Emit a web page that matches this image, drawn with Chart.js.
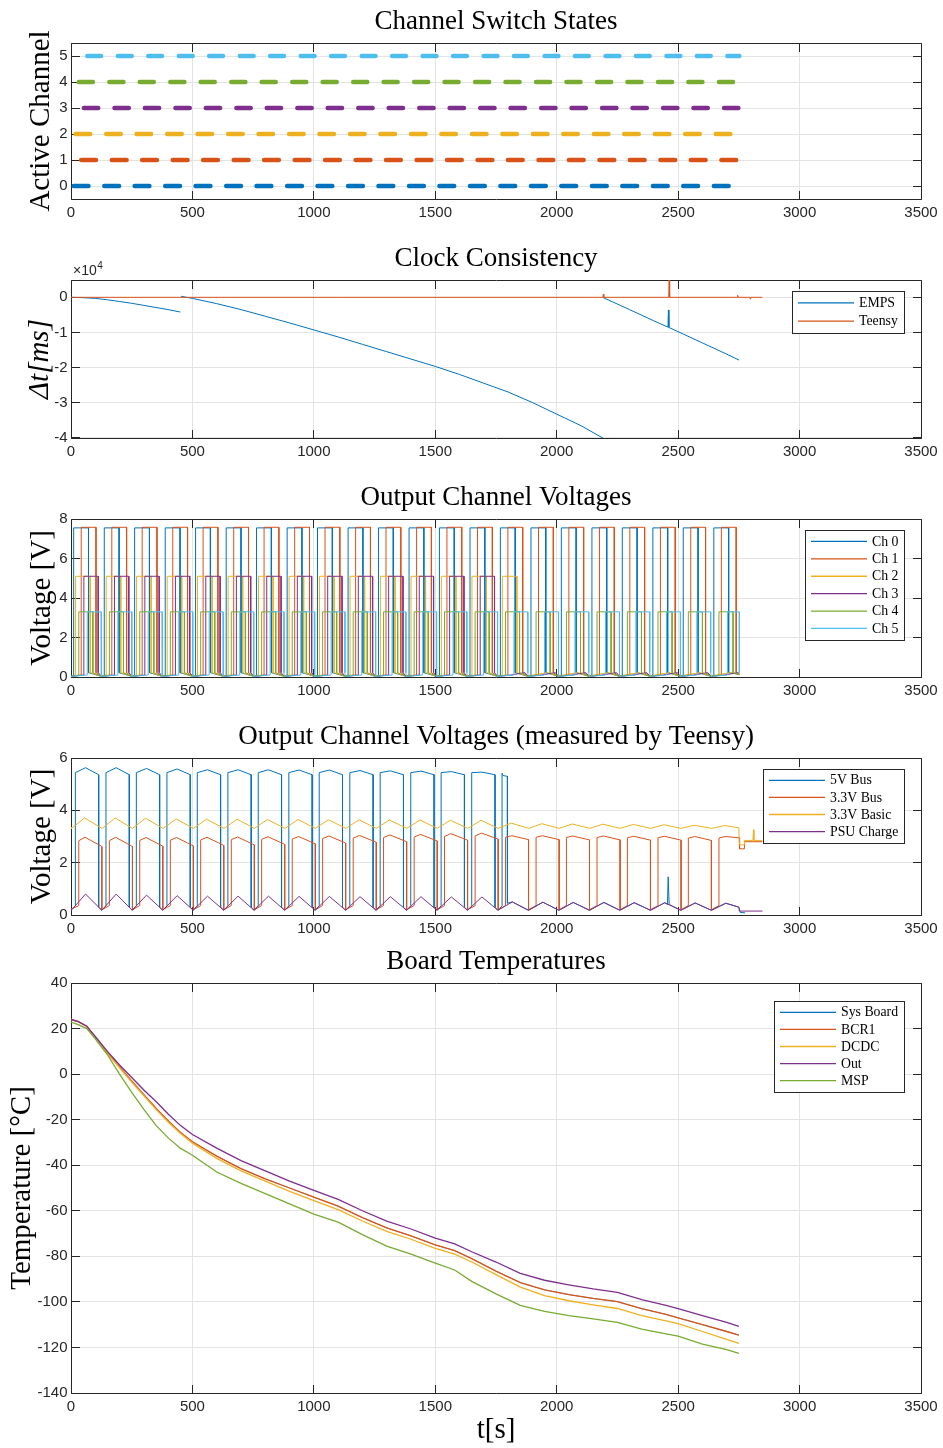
<!DOCTYPE html>
<html><head><meta charset="utf-8">
<script src="https://cdn.jsdelivr.net/npm/chart.js@4.4.1/dist/chart.umd.min.js"></script>
<style>
html,body{margin:0;padding:0;background:#fff;}
body{width:943px;height:1448px;position:relative;overflow:hidden;}
canvas{position:absolute;left:0;}
</style></head><body>
<canvas id="c1" width="943" height="240" style="top:0px"></canvas>
<canvas id="c2" width="943" height="238" style="top:240px"></canvas>
<canvas id="c3" width="943" height="239" style="top:478px"></canvas>
<canvas id="c4" width="943" height="223" style="top:717px"></canvas>
<canvas id="c5" width="943" height="508" style="top:940px"></canvas>
<script>
// ---------------- DATA ----------------
const xTicks = [0, 500, 1000, 1500, 2000, 2500, 3000, 3500];

// Panel 1 / 3 : channel switching cycles
const channelNames = ['Ch 0', 'Ch 1', 'Ch 2', 'Ch 3', 'Ch 4', 'Ch 5'];
const switchRows = [0, 1, 2, 3, 4, 5];
const switchTicks = [0, 1, 2, 3, 4, 5];
const cycleStart = [0, 126, 251, 377, 502, 628, 753, 879, 1004, 1130, 1255, 1381, 1506, 1632, 1757, 1883, 2008, 2134, 2259, 2385, 2510, 2636];
const chOnAt = [11, 42, 19, 53, 32, 67];      // seconds after cycle start
const chOffAt = [72, 103, 79, 112, 90, 124];
const chHighV = [7.55, 7.58, 5.1, 5.1, 3.3, 3.3];
const chLastPlateau = [21, 21, 14, 13, 21, 21];
const chLowAfterOff = 0.22, chLowAtStart = 0.03, chLowBeforeOn = 0.1;
const logEnd = 2752;
const voltTicks = [0, 2, 4, 6, 8];

// Panel 2 : clock consistency (ms)
const empsT1 = [0, 50, 100, 150, 200, 250, 300, 350, 400, 450];
const empsV1 = [0, -100, -300, -700, -1200, -1700, -2300, -2900, -3500, -4200];
const empsT2 = [453, 500, 600, 700, 800, 900, 1000, 1100, 1200, 1300, 1400, 1500, 1600, 1700, 1800, 1900, 2000, 2100, 2192];
const empsV2 = [300, -300, -1800, -3500, -5400, -7300, -9300, -11300, -13400, -15500, -17600, -19700, -22000, -24500, -27000, -30000, -33300, -36600, -40200];
const empsT3 = [2192, 2300, 2400, 2458, 2460, 2462, 2500, 2600, 2700, 2751];
const empsV3 = [-100, -3500, -6700, -8500, -3600, -8600, -9800, -13000, -16200, -17900];
const teensyT = [0, 2190, 2192, 2194, 2461, 2463, 2465, 2743, 2745, 2747, 2795, 2797, 2799, 2847];
const teensyV = [0, 0, 900, 0, 0, 4940, 0, 0, 600, 0, 0, -500, 0, 0];
const clockTicks = [-40000, -30000, -20000, -10000, 0];

// Panel 4 : Teensy measurements (per cycle)
const psuPeak = [0.80, 0.80, 0.76, 0.74, 0.72, 0.72, 0.72, 0.71, 0.71, 0.70, 0.70, 0.70, 0.69, 0.69, 0.50, 0.49, 0.48, 0.48, 0.47, 0.47, 0.46, 0.45];
const psuTrough = 0.18;
const basicPeak = [3.71, 3.71, 3.70, 3.67, 3.66, 3.66, 3.65, 3.65, 3.64, 3.64, 3.63, 3.63, 3.62, 3.62, 3.51, 3.49, 3.48, 3.47, 3.46, 3.45, 3.43, 3.42];
const basicTrough = 3.31;
const bus5Peak = [5.63, 5.63, 5.60, 5.58, 5.55, 5.55, 5.55, 5.54, 5.54, 5.52, 5.51, 5.50, 5.48, 5.46];
const bus33Rise = [2.84, 2.84, 2.85, 2.86, 2.87, 2.88, 2.89, 2.90, 2.92, 2.94, 2.96, 2.98, 3.00, 3.02, 2.97, 2.97, 2.96, 2.96, 2.95, 2.95, 2.94, 2.94];
const bus33Peak = [2.97, 2.97, 2.96, 2.96, 2.97, 2.98, 2.99, 3.00, 3.02, 3.04, 3.06, 3.08, 3.11, 3.13, 3.03, 3.03, 3.02, 3.02, 3.01, 3.01, 3.00, 3.00];
const bus33End = [2.62, 2.62, 2.63, 2.64, 2.66, 2.68, 2.70, 2.72, 2.75, 2.78, 2.80, 2.83, 2.86, 2.90, 2.88, 2.88, 2.87, 2.87, 2.86, 2.86, 2.85, 2.85];
const teensyNames = ['5V Bus', '3.3V Bus', '3.3V Basic', 'PSU Charge'];
const teensyTicks = [0, 2, 4, 6];

// Panel 5 : board temperatures
const tempT = [0, 30, 65, 100, 150, 200, 250, 300, 350, 400, 450, 500, 600, 700, 800, 900, 1000, 1100, 1200, 1300, 1400, 1500, 1580, 1650, 1750, 1850, 1950, 2050, 2150, 2250, 2350, 2450, 2500, 2600, 2700, 2750];
const tSys  = [24, 23, 21, 16, 9.3, 3.2, -3, -9, -15, -20.5, -25.5, -29.7, -36, -41.5, -46, -50, -54, -58, -63, -67.5, -71, -75, -77.5, -81, -86.5, -91.5, -94.7, -96.8, -98.5, -99.9, -103, -105.5, -107, -110, -113, -114.6];
const tBCR1 = [24, 23, 21, 16, 9.3, 3.2, -3, -9, -15, -20.5, -25.5, -29.7, -36, -41.5, -46, -50, -54, -58, -63, -67.5, -71, -75, -77.5, -81, -86.5, -91.5, -94.7, -96.8, -98.5, -99.9, -103, -105.5, -107, -110, -113, -114.6];
const tDCDC = [24, 23, 21, 15.8, 9, 2.8, -3.5, -9.5, -15.5, -21, -26, -30.3, -37, -42.5, -47, -51.5, -55.5, -59.5, -64.5, -69, -72.5, -76.5, -79, -82.5, -88, -93.5, -97.2, -99.5, -101.3, -102.9, -106, -108.3, -109.5, -113, -116.5, -118.2];
const tOut  = [24, 23, 21, 16.5, 10, 4, -1.5, -7, -12, -17.5, -22.5, -26.5, -32.5, -38, -42.5, -47, -51, -55, -60, -64.5, -68, -72, -74.5, -78, -82.5, -87.5, -90.5, -92.5, -94.3, -95.8, -99, -101.5, -103, -106, -109, -110.8];
const tMSP  = [22.8, 21.7, 20, 15.5, 8.5, 0, -8, -15.5, -22.5, -28, -32.5, -35.6, -43, -48, -52.5, -57, -61.5, -65, -70.5, -75.5, -79, -83, -86, -91, -96.5, -101.5, -104.2, -106, -107.5, -109, -112, -114, -115, -118.5, -121, -122.6];
const tempNames = ['Sys Board', 'BCR1', 'DCDC', 'Out', 'MSP'];
const tempTicks = [-140, -120, -100, -80, -60, -40, -20, 0, 20, 40];

// ---------------- STYLE ----------------
const COLORS = ['#0072BD', '#D95319', '#EDB120', '#7E2F8E', '#77AC30', '#4DBEEE'];
const SERIF = '"Liberation Serif", "DejaVu Serif", serif';
const SANS = '"Liberation Sans", Arial, sans-serif';
const GRID = '#e3e3e3';
const AXIS = '#262626';
const TITLE_SIZE = 27;
const LABEL_SIZE = 29;
const TICK_SIZE = 15;
const PLOT_LEFT = 71, PLOT_RIGHT = 921;

// ---------------- BUILDERS ----------------
const zip = (xs, ys) => xs.map((x, i) => ({ x: x, y: ys[i] }));

function switchSeries(ch) {
  const pts = [{ x: 0, y: null }];
  cycleStart.forEach(s => {
    pts.push({ x: s + chOnAt[ch], y: switchRows[ch] });
    pts.push({ x: Math.min(s + chOffAt[ch], logEnd), y: switchRows[ch] });
    pts.push({ x: s + chOffAt[ch] + 1, y: null });
  });
  return pts;
}
function channelSeries(ch) {
  const pts = [{ x: 0, y: chLowAtStart }];
  cycleStart.forEach((s, k) => {
    const on = s + chOnAt[ch], off = Math.min(s + chOffAt[ch], logEnd);
    pts.push({ x: on, y: chLowBeforeOn });
    if (k <= chLastPlateau[ch]) {
      pts.push({ x: on, y: chHighV[ch] });
      pts.push({ x: off, y: chHighV[ch] });
    }
    pts.push({ x: off, y: chLowAfterOff });
    if (k + 1 < cycleStart.length) pts.push({ x: cycleStart[k + 1], y: chLowAtStart });
    else if (off < logEnd) pts.push({ x: logEnd, y: chLowAtStart + 0.1 });
  });
  return pts;
}
function psuSeries() {
  const pts = [{ x: 0, y: 0.22 }];
  cycleStart.forEach((s, k) => { pts.push({ x: s + 1, y: psuTrough }); pts.push({ x: s + 60, y: psuPeak[k] }); });
  pts.push({ x: 2750, y: 0.3 }, { x: 2752, y: 0.15 }, { x: 2847, y: 0.15 });
  return pts;
}
function basicSeries() {
  const pts = [{ x: 0, y: 3.36 }];
  cycleStart.forEach((s, k) => { pts.push({ x: s + 2, y: basicTrough }); pts.push({ x: s + 56, y: basicPeak[k] }); });
  pts.push({ x: 2750, y: 3.33 }, { x: 2752, y: 2.68 }, { x: 2772, y: 2.68 }, { x: 2773, y: 2.85 },
           { x: 2808, y: 2.85 }, { x: 2810, y: 3.26 }, { x: 2812, y: 2.85 }, { x: 2847, y: 2.85 });
  return pts;
}
function bus33Series() {
  const pts = [{ x: 0, y: 0.22 }];
  const last = cycleStart.length - 1;
  cycleStart.forEach((s, k) => {
    const on = s + 32, off = s + 127;
    pts.push({ x: on, y: 0.36 }, { x: on, y: bus33Rise[k] }, { x: s + 58, y: bus33Peak[k] });
    if (k < last) pts.push({ x: off, y: bus33End[k] }, { x: off, y: 0.2 });
    else pts.push({ x: 2752, y: 2.95 }, { x: 2753, y: 2.53 }, { x: 2772, y: 2.53 }, { x: 2773, y: 2.8 }, { x: 2847, y: 2.8 });
  });
  return pts;
}
function bus5Series(psuPts) {
  const pts = [{ x: 0, y: 0.2 }];
  bus5Peak.forEach((pk, k) => {
    const s = cycleStart[k];
    pts.push({ x: s + 18, y: 0.35 }, { x: s + 18, y: 5.44 }, { x: s + 60, y: pk }, { x: s + 114, y: 5.36 }, { x: s + 114, y: 0.3 }, { x: cycleStart[k + 1] + 1, y: psuTrough });
  });
  pts.push({ x: 1775, y: 0.35 }, { x: 1775, y: 5.42 }, { x: 1779, y: 5.33 }, { x: 1797, y: 5.3 }, { x: 1797, y: 0.45 });
  const tail = psuPts.filter(p => p.x > 1797 && p.x < 2750);
  tail.push({ x: 2456, y: 0.4 }, { x: 2459, y: 1.46 }, { x: 2463, y: 0.4 }, { x: 2750, y: 0.3 }, { x: 2756, y: 0.1 }, { x: 2776, y: 0.08 });
  tail.sort((a, b) => a.x - b.x);
  return pts.concat(tail);
}

// ---------------- PLUGINS ----------------
const align = v => Math.round(v - 0.5) + 0.5;
const matlabAxes = {
  id: 'matlabAxes',
  beforeDatasetsDraw(chart) {
    const { ctx, chartArea: a, scales } = chart;
    const x = scales.x, y = scales.y;
    const L = align(a.left), R = align(a.right), T = align(a.top), B = align(a.bottom);
    const tl = 8.5;
    ctx.save();
    ctx.strokeStyle = AXIS; ctx.lineWidth = 1;
    ctx.beginPath();
    ctx.rect(L, T, R - L, B - T);
    x.ticks.forEach(t => {
      const px = align(x.getPixelForValue(t.value));
      ctx.moveTo(px, B); ctx.lineTo(px, B - tl);
      ctx.moveTo(px, T); ctx.lineTo(px, T + tl);
    });
    y.ticks.forEach(t => {
      const py = align(y.getPixelForValue(t.value));
      ctx.moveTo(L, py); ctx.lineTo(L + tl, py);
      ctx.moveTo(R, py); ctx.lineTo(R - tl, py);
    });
    ctx.stroke();
    ctx.restore();
  }
};
const matlabLegend = {
  id: 'matlabLegend',
  afterDraw(chart, args, opts) {
    if (!opts || !opts.show) return;
    const { ctx, chartArea: a } = chart;
    const items = chart.data.datasets;
    ctx.save();
    ctx.font = '13.8px ' + SERIF;
    const maxW = Math.max(...items.map(d => ctx.measureText(d.label).width));
    const rowH = opts.rowH;
    const w = Math.round(6 + 56 + 5 + maxW + 6);
    const h = Math.round(items.length * rowH + 5.5);
    const right = Math.round(a.right - 17);
    const left = right - w;
    const top = Math.round(a.top + opts.top);
    ctx.fillStyle = '#fff';
    ctx.fillRect(left, top, w, h);
    ctx.strokeStyle = AXIS; ctx.lineWidth = 1;
    ctx.strokeRect(left + 0.5, top + 0.5, w, h);
    items.forEach((d, i) => {
      const cy = top + 2.75 + rowH * (i + 0.5);
      ctx.strokeStyle = d.borderColor; ctx.lineWidth = 1.3;
      ctx.beginPath(); ctx.moveTo(left + 6, cy); ctx.lineTo(left + 62, cy); ctx.stroke();
      ctx.fillStyle = '#000'; ctx.textBaseline = 'middle'; ctx.textAlign = 'left';
      ctx.fillText(d.label, left + 67, cy + 0.5);
    });
    ctx.restore();
  }
};
const expLabel = {
  id: 'expLabel',
  afterDraw(chart, args, opts) {
    if (!opts || !opts.show) return;
    const { ctx, chartArea: a } = chart;
    ctx.save();
    ctx.fillStyle = AXIS; ctx.textBaseline = 'alphabetic'; ctx.textAlign = 'left';
    ctx.font = '14px ' + SANS;
    const x0 = a.left + 2, y0 = a.top - 5;
    ctx.fillText('\u00d710', x0, y0);
    const w = ctx.measureText('\u00d710').width;
    ctx.font = '10px ' + SANS;
    ctx.fillText(opts.exp, x0 + w + 0.5, y0 - 6);
    ctx.restore();
  }
};

function makeChart(id, cfg) {
  const canvas = document.getElementById(id);
  const H = canvas.height;
  const top = cfg.canvasTop;
  const lh = TITLE_SIZE * 1.2;
  const padTop = cfg.titleY - top - lh / 2;
  const padBottom = cfg.plotTop - top - lh - padTop;
  const plotBottomRel = cfg.plotBottom - top;
  const n = cfg.datasets.length;
  cfg.datasets.forEach((d, i) => {
    d.order = n - i;
    d.pointRadius = 0;
    d.borderWidth = d.borderWidth || 1;
    d.fill = false;
    d.spanGaps = false;
  });
  return new Chart(canvas, {
    type: 'line',
    data: { datasets: cfg.datasets },
    options: {
      responsive: false, animation: false, devicePixelRatio: 1,
      events: [],
      layout: { padding: { left: 0, right: 943 - PLOT_RIGHT, top: 0, bottom: 0 } },
      elements: { point: { radius: 0 }, line: { tension: 0 } },
      plugins: {
        legend: { display: false },
        tooltip: { enabled: false },
        title: {
          display: true, text: cfg.title, fullSize: false, color: '#000',
          font: { family: SERIF, size: TITLE_SIZE, weight: 'normal', lineHeight: 1.2 },
          padding: { top: padTop, bottom: padBottom }
        },
        matlabLegend: cfg.legend || { show: false },
        expLabel: cfg.exp || { show: false }
      },
      scales: {
        x: {
          type: 'linear', min: 0, max: 3500,
          afterBuildTicks: s => { s.ticks = xTicks.map(v => ({ value: v })); },
          afterFit: s => { s.height = H - plotBottomRel; },
          grid: { color: GRID, drawTicks: false, lineWidth: 1 },
          border: { display: false },
          ticks: { color: AXIS, font: { family: SANS, size: TICK_SIZE }, padding: 4.5, maxRotation: 0, autoSkip: false, callback: v => String(v) },
          title: cfg.xTitle ? { display: true, text: cfg.xTitle, color: '#000', font: { family: SERIF, size: LABEL_SIZE, lineHeight: 1.2 }, padding: { top: 0, bottom: 0 } } : { display: false }
        },
        y: {
          type: 'linear', min: cfg.yMin, max: cfg.yMax,
          afterBuildTicks: s => { s.ticks = cfg.yTicks.map(v => ({ value: v })); },
          afterFit: s => { s.width = PLOT_LEFT; },
          grid: { color: GRID, drawTicks: false, lineWidth: 1 },
          border: { display: false },
          ticks: { color: AXIS, font: { family: SANS, size: TICK_SIZE }, padding: 3.5, autoSkip: false, callback: cfg.yLabel || (v => String(v)) },
          title: { display: true, text: cfg.yTitle, color: '#000', font: { family: SERIF, size: LABEL_SIZE, style: cfg.yTitleStyle || 'normal', lineHeight: 1.2 }, padding: { top: cfg.yTitlePad, bottom: 0 } }
        }
      }
    },
    plugins: [matlabAxes, matlabLegend, expLabel]
  });
}

// ---------------- CHARTS ----------------
makeChart('c1', {
  canvasTop: 0, titleY: 21.5, plotTop: 43, plotBottom: 199,
  title: 'Channel Switch States', yTitle: 'Active Channel', yTitlePad: 23.6,
  yMin: -0.5, yMax: 5.5, yTicks: switchTicks,
  datasets: switchRows.map(ch => ({ label: channelNames[ch], data: switchSeries(ch), borderColor: COLORS[ch], borderWidth: 4.5, borderCapStyle: 'round', clip: false }))
});

makeChart('c2', {
  canvasTop: 240, titleY: 259, plotTop: 280, plotBottom: 438,
  title: 'Clock Consistency', yTitle: '\u0394t[ms]', yTitleStyle: 'italic', yTitlePad: 22.6,
  yMin: -40110, yMax: 4940, yTicks: clockTicks, yLabel: v => String(v / 10000),
  legend: { show: true, top: 10.7, rowH: 18.3 },
  exp: { show: true, exp: '4' },
  datasets: [
    { label: 'EMPS', data: zip(empsT1, empsV1).concat([{ x: 451, y: null }], zip(empsT2, empsV2), [{ x: 2191, y: null }], zip(empsT3, empsV3)), borderColor: COLORS[0] },
    { label: 'Teensy', data: zip(teensyT, teensyV), borderColor: COLORS[1] }
  ]
});

makeChart('c3', {
  canvasTop: 478, titleY: 498, plotTop: 519, plotBottom: 677,
  title: 'Output Channel Voltages', yTitle: 'Voltage [V]', yTitlePad: 24.6,
  yMin: 0, yMax: 8, yTicks: voltTicks,
  legend: { show: true, top: 11, rowH: 17.4 },
  datasets: switchRows.map(ch => ({ label: channelNames[ch], data: channelSeries(ch), borderColor: COLORS[ch] }))
});

const psuPts = psuSeries();
makeChart('c4', {
  canvasTop: 717, titleY: 737, plotTop: 758, plotBottom: 915,
  title: 'Output Channel Voltages (measured by Teensy)', yTitle: 'Voltage [V]', yTitlePad: 24.6,
  yMin: 0, yMax: 6, yTicks: teensyTicks,
  legend: { show: true, top: 11, rowH: 17.1 },
  datasets: [
    { label: teensyNames[0], data: bus5Series(psuPts), borderColor: COLORS[0] },
    { label: teensyNames[1], data: bus33Series(), borderColor: COLORS[1] },
    { label: teensyNames[2], data: basicSeries(), borderColor: COLORS[2] },
    { label: teensyNames[3], data: psuPts, borderColor: COLORS[3] }
  ]
});

makeChart('c5', {
  canvasTop: 940, titleY: 962, plotTop: 983, plotBottom: 1393,
  title: 'Board Temperatures', yTitle: 'Temperature [\u00b0C]', yTitlePad: 4.6, xTitle: 't[s]',
  yMin: -140, yMax: 40, yTicks: tempTicks,
  legend: { show: true, top: 18, rowH: 17.1 },
  datasets: [
    { label: tempNames[0], data: zip(tempT, tSys), borderColor: COLORS[0], borderWidth: 0.6 },
    { label: tempNames[1], data: zip(tempT, tBCR1), borderColor: COLORS[1], borderWidth: 1.3 },
    { label: tempNames[2], data: zip(tempT, tDCDC), borderColor: COLORS[2], borderWidth: 1.3 },
    { label: tempNames[3], data: zip(tempT, tOut), borderColor: COLORS[3], borderWidth: 1.3 },
    { label: tempNames[4], data: zip(tempT, tMSP), borderColor: COLORS[4], borderWidth: 1.3 }
  ]
});
</script>
</body></html>
